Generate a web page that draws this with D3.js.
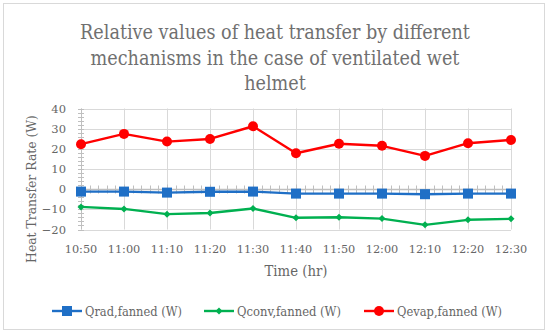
<!DOCTYPE html>
<html><head><meta charset="utf-8">
<script src="https://cdn.jsdelivr.net/npm/d3@7"></script>
<style>body{margin:0;background:#fff}svg{display:block}</style>
</head><body>
<svg id="c" width="550" height="334"></svg>
<script>
const categories = ["10:50","11:00","11:10","11:20","11:30","11:40","11:50","12:00","12:10","12:20","12:30"];
const qrad  = [-1.2,-1.2,-1.7,-1.3,-1.2,-2.2,-2.2,-2.2,-2.5,-2.2,-2.2];
const qconv = [-8.8,-9.8,-12.4,-11.8,-9.6,-14.2,-13.9,-14.6,-17.7,-15.2,-14.7];
const qevap = [22.3,27.4,23.6,24.9,31.2,17.8,22.5,21.5,16.5,22.8,24.4];
const yTicks = [-20,-10,0,10,20,30,40];
const seriesNames = ["Qrad,fanned (W)","Qconv,fanned (W)","Qevap,fanned (W)"];
const titleLines = ["Relative values of heat transfer by different","mechanisms in the case of ventilated wet","helmet"];

const svg = d3.select("#c");
const serif = "'Liberation Serif', serif";
const titleFont = "'DejaVu Serif Condensed', 'DejaVu Serif', serif";
const numFont = "'DejaVu Serif', serif";

function fit(sel, target){
  sel.each(function(){
    const fs = parseFloat(this.getAttribute("font-size"));
    const w = this.getComputedTextLength();
    if (w>0) this.setAttribute("font-size", (fs*target/w).toFixed(2));
  });
}

svg.append("rect").attr("x",3.5).attr("y",3.5).attr("width",541).attr("height",326)
  .attr("fill","#fff").attr("stroke","#d9d9d9").attr("stroke-width",1);

// title: size fitted on first line, applied to all lines
const tl = svg.append("g");
const t0 = tl.append("text").attr("font-family",titleFont).attr("font-size",20).text(titleLines[0]);
fit(t0,390);
const tfs = t0.attr("font-size");
t0.remove();
titleLines.forEach((t,i)=>{
  tl.append("text").attr("x",275).attr("y",39+i*25.5).attr("text-anchor","middle")
    .attr("font-family",titleFont).attr("font-size",tfs).attr("fill","#707070").text(t);
});

const x = d3.scalePoint().domain(categories).range([81,511]);
const y = d3.scaleLinear().domain([-20,40]).range([229.5,108.5]);

const g = svg.append("g");
g.selectAll(".hg").data(yTicks).join("line")
  .attr("x1",81).attr("x2",511).attr("y1",d=>Math.round(y(d))+0.5).attr("y2",d=>Math.round(y(d))+0.5)
  .attr("stroke","#d9d9d9").attr("stroke-width",1);
g.selectAll(".vg").data(categories).join("line")
  .attr("x1",d=>Math.round(x(d))+0.5).attr("x2",d=>Math.round(x(d))+0.5).attr("y1",y(40)).attr("y2",y(-20))
  .attr("stroke","#d9d9d9").attr("stroke-width",1);

const yMinor = d3.range(-20,40.01,2);
g.selectAll(".ym").data(yMinor).join("line")
  .attr("x1",78).attr("x2",84).attr("y1",d=>Math.round(y(d))+0.5).attr("y2",d=>Math.round(y(d))+0.5)
  .attr("stroke","#bfbfbf").attr("stroke-width",1);
g.append("line").attr("x1",81.5).attr("x2",81.5).attr("y1",y(40)).attr("y2",y(-20)).attr("stroke","#bfbfbf");

const y0 = Math.round(y(0))+0.5;
g.append("line").attr("x1",81).attr("x2",511).attr("y1",y0).attr("y2",y0).attr("stroke","#bfbfbf").attr("stroke-width",1.3);
const step = x.step();
const xMinor = [];
for(let i=0;i<categories.length-1;i++) for(let k=1;k<5;k++) xMinor.push(x(categories[i])+step*k/5);
g.selectAll(".xm").data(xMinor).join("line")
  .attr("x1",d=>Math.round(d)+0.5).attr("x2",d=>Math.round(d)+0.5).attr("y1",y0-4).attr("y2",y0+4)
  .attr("stroke","#bfbfbf").attr("stroke-width",1);
g.selectAll(".xM").data(categories).join("line")
  .attr("x1",d=>Math.round(x(d))+0.5).attr("x2",d=>Math.round(x(d))+0.5).attr("y1",y0-5).attr("y2",y0+5)
  .attr("stroke","#bfbfbf").attr("stroke-width",1);

g.selectAll(".yl").data(yTicks).join("text")
  .attr("x",66).attr("y",d=>y(d)+4).attr("text-anchor","end")
  .attr("font-family",numFont).attr("font-size",11.5).attr("fill","#666")
  .text(d=>d<0? "\u2212"+Math.abs(d) : d);
g.selectAll(".xl").data(categories).join("text")
  .attr("x",d=>x(d)).attr("y",253).attr("text-anchor","middle")
  .attr("font-family",numFont).attr("font-size",11.3).attr("fill","#666").text(d=>d);

const xt = svg.append("text").attr("x",296).attr("y",276).attr("text-anchor","middle")
  .attr("font-family",titleFont).attr("font-size",14).attr("fill","#666").text("Time (hr)");
fit(xt,63);
const yt = svg.append("text").attr("transform","translate(36,189) rotate(-90)").attr("text-anchor","middle")
  .attr("font-family",titleFont).attr("font-size",14).attr("fill","#666").text("Heat Transfer Rate (W)");
fit(yt,148);

const colors = ["#1f6fc6","#00b050","#ff0000"];
const data = [qrad,qconv,qevap];
const line = d3.line().x((d,i)=>x(categories[i])).y(d=>y(d));

function marker(sel, k, cx, cy){
  if(k===0) sel.append("rect").attr("x",cx-5).attr("y",cy-5).attr("width",10).attr("height",10).attr("fill",colors[0]);
  else if(k===1) sel.append("path").attr("d",`M${cx},${cy-3.5}L${cx+3.5},${cy}L${cx},${cy+3.5}L${cx-3.5},${cy}Z`).attr("fill",colors[1]);
  else sel.append("circle").attr("cx",cx).attr("cy",cy).attr("r",5).attr("fill",colors[2]);
}

data.forEach((vals,k)=>{
  g.append("path").datum(vals).attr("d",line).attr("fill","none").attr("stroke",colors[k])
    .attr("stroke-width",2.4).attr("stroke-linejoin","round");
  const mg = g.append("g");
  vals.forEach((v,i)=>marker(mg,k,x(categories[i]),y(v)));
});

const legX = [52,204,364];
const legW = [97,104,105];
seriesNames.forEach((n,k)=>{
  const lg = svg.append("g");
  lg.append("line").attr("x1",legX[k]).attr("x2",legX[k]+30).attr("y1",311).attr("y2",311)
    .attr("stroke",colors[k]).attr("stroke-width",2.4);
  marker(lg,k,legX[k]+15,311);
  const t = lg.append("text").attr("x",legX[k]+33).attr("y",316).attr("font-family",titleFont)
    .attr("font-size",13).attr("fill","#666").text(n);
  fit(t,legW[k]);
});
</script>
</body></html>
